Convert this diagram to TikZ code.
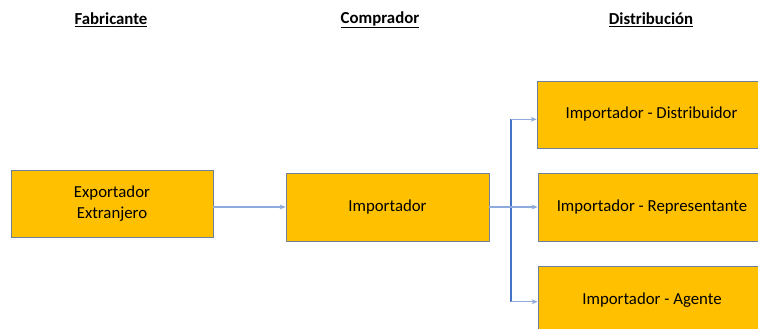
\documentclass[tikz,border=0pt]{standalone}
\usepackage{fontspec}
\setmainfont{Carlito}
\usetikzlibrary{arrows.meta}
\definecolor{boxfill}{HTML}{FFC000}
\definecolor{boxline}{HTML}{6F7F99}
\definecolor{arrowblue}{HTML}{8FAADC}
\definecolor{lineblue}{HTML}{4472C4}
\begin{document}
\begin{tikzpicture}[x=1pt,y=1pt,
  box/.style={draw=boxline, line width=0.8pt, fill=boxfill, inner sep=0pt, align=center, font=\fontsize{16.8}{21}\selectfont},
  head/.style={font=\bfseries\fontsize{16.8}{19}\selectfont, inner sep=0pt},
  arr/.style={draw=arrowblue, line width=1.2pt, -{Stealth[length=6pt,width=5pt]}},
  vline/.style={draw=lineblue, line width=1.4pt}]
\useasboundingbox (0,0) rectangle (758,329);
\clip (0,0) rectangle (758,329);
\node[head] (h1) at (111,309) {\underline{Fabricante}};
\node[head] (h2) at (380,309) {\underline{Comprador}};
\node[head] (h3) at (651,309) {\underline{Distribución}};
\node[box, minimum width=202pt, minimum height=67pt] (exp) at (112,125.5) {\raisebox{-2pt}{Exportador}\\\raisebox{-2pt}{Extranjero}};
\node[box, minimum width=203pt, minimum height=68pt] (imp) at (387.5,122) {\raisebox{-2pt}{Importador}};
\node[box, minimum width=229pt, minimum height=67pt] (d1) at (651.5,214.5) {\raisebox{-2pt}{Importador - Distribuidor}};
\node[box, minimum width=228pt, minimum height=68pt] (d2) at (652,122) {\raisebox{-2pt}{Importador - Representante}};
\node[box, minimum width=228pt, minimum height=68pt] (d3) at (652,29) {\raisebox{-2pt}{Importador - Agente}};
\coordinate (jt) at (511,209.7);
\coordinate (jb) at (511,27.3);
\draw[arr] (exp.east |- imp.west) -- (imp.west);
\draw[vline] (jt) -- (jb);
\draw[arr] (imp.east) -- (d2.west);
\draw[arr] (jt) -- (d1.west |- jt);
\draw[arr] (jb) -- (d3.west |- jb);
\end{tikzpicture}
\end{document}
